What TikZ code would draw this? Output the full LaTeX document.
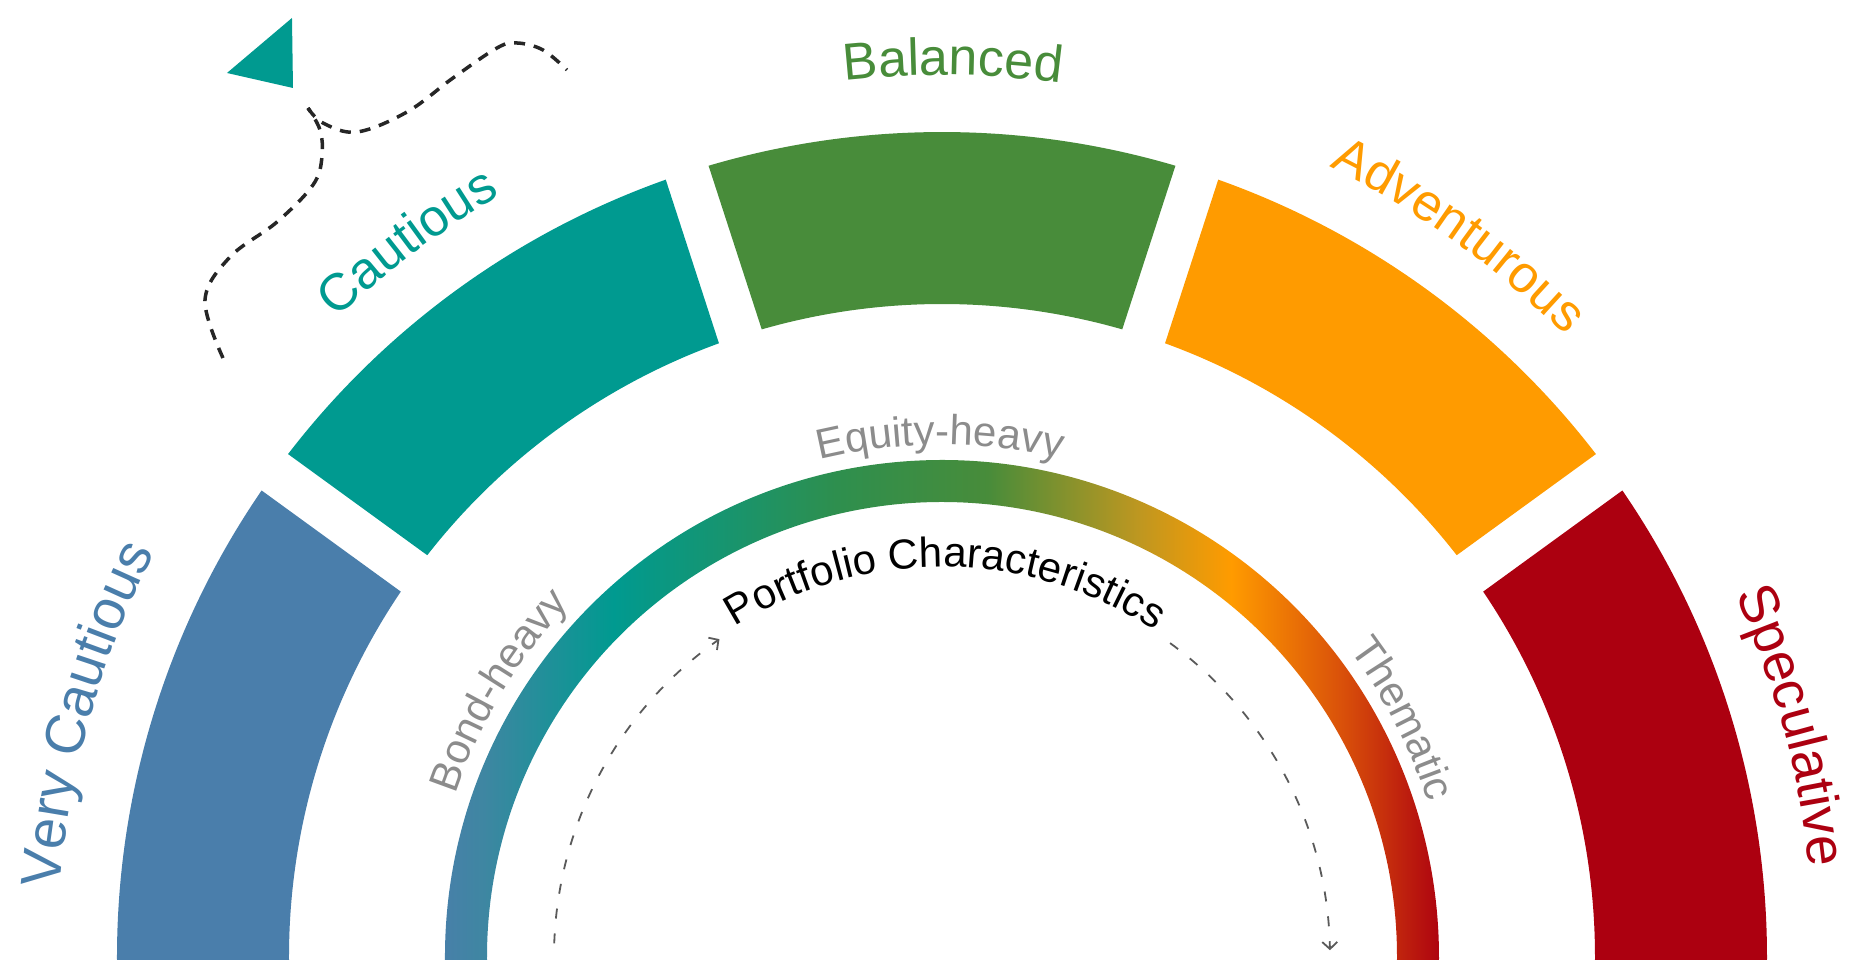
\documentclass[tikz,border=0pt]{standalone}
\usepackage{fontspec}
\setmainfont{Liberation Sans}
\usetikzlibrary{decorations.text,arrows.meta}
\definecolor{cBlue}{HTML}{4A7EAB}
\definecolor{cTeal}{HTML}{009A90}
\definecolor{cGreen}{HTML}{488C3A}
\definecolor{cOrange}{HTML}{FF9B00}
\definecolor{cRed}{HTML}{AC0010}
\definecolor{cGray}{HTML}{8C8C8C}
\definecolor{cDash}{HTML}{5A5A5A}
\definecolor{gA}{HTML}{3F86A2}
\definecolor{gB}{HTML}{2E8F4E}
\definecolor{gC}{HTML}{BF9720}
\definecolor{gD}{HTML}{D9500A}
\pgfdeclarehorizontalshading{ringshade}{100bp}{color(0bp)=(cBlue); color(25bp)=(cBlue); color(27.5bp)=(gA); color(34bp)=(cTeal); color(45bp)=(gB); color(52.5bp)=(cGreen); color(60bp)=(gC); color(64.5bp)=(cOrange); color(70bp)=(gD); color(75bp)=(cRed); color(100bp)=(cRed)}
% text along a clockwise arc: color, size, radius, centre angle, text
\newcommand\arctext[5]{%
  \path[decorate, decoration={text along path, text align=center, text color=#1,
    text={|\fontsize{#2}{#2}\selectfont|#5}}]
    ({#4+45}:#3) arc[start angle={#4+45}, end angle={#4-45}, radius=#3];}
\tikzset{
  dasharc/.style={cDash, line width=1.8pt, dash pattern=on 10pt off 15pt,
    -{Straight Barb[length=7pt,width=15pt]}},
  flightpath/.style={black!85, line width=3.5pt, dash pattern=on 11pt off 9pt}
}
\begin{document}
\begin{tikzpicture}[x=1pt,y=1pt]
\useasboundingbox (-942,-3) rectangle (913,957);
\clip (-942,-3) rectangle (913,957);
% outer segments
\fill[cRed] (-3:825) arc[start angle=-3,end angle=34.437,radius=825] -- (34.025:653) arc[start angle=34.025,end angle=-3,radius=653] -- cycle;
\fill[cOrange] (37.563:825) arc[start angle=37.563,end angle=70.437,radius=825] -- (70.025:653) arc[start angle=70.025,end angle=37.975,radius=653] -- cycle;
\fill[cGreen] (73.563:825) arc[start angle=73.563,end angle=106.437,radius=825] -- (106.025:653) arc[start angle=106.025,end angle=73.975,radius=653] -- cycle;
\fill[cTeal] (109.563:825) arc[start angle=109.563,end angle=142.437,radius=825] -- (142.025:653) arc[start angle=142.025,end angle=109.975,radius=653] -- cycle;
\fill[cBlue] (145.563:825) arc[start angle=145.563,end angle=183,radius=825] -- (183:653) arc[start angle=183,end angle=145.975,radius=653] -- cycle;
% gradient ring
\shade[shading=ringshade] (183:497) arc[start angle=183,end angle=-3,radius=497] -- (-3:455) arc[start angle=-3,end angle=183,radius=455] -- cycle;
% outer labels
\arctext{cBlue}{56}{885}{164.2}{Very Cautious}
\arctext{cTeal}{52}{880}{126.8}{Cautious}
\arctext{cGreen}{52}{882}{89.3}{Balanced}
\arctext{cOrange}{52}{880}{54.4}{Adventurous}
\arctext{cRed}{55}{872}{15.2}{Speculative}
% ring labels
\arctext{cGray}{42}{513}{149}{Bond-heavy}
\arctext{cGray}{42}{512}{90.2}{Equity-heavy}
\arctext{cGray}{42}{510}{27.3}{Thematic}
% inner title and dashed arcs
\arctext{black}{42}{390}{89.5}{Portfolio Characteristics}
\draw[dasharc] (178:388) arc[start angle=178,end angle=125,radius=388];
\draw[dasharc] (54:388) arc[start angle=54,end angle=1,radius=388];
% flight path and paper plane
\draw[flightpath] plot[smooth, tension=0.6] coordinates {(-719,599) (-737,657) (-712,700) (-665,735) (-629,772) (-620,800) (-622,827) (-634,849)};
\draw[flightpath] plot[smooth, tension=0.6] coordinates {(-634,849) (-619,834) (-585,825) (-535,845) (-489,879) (-445,909) (-425,914) (-399,907) (-375,887)};
\fill[cTeal] (-650,939) -- (-715,884) -- (-649,869) -- cycle;
\end{tikzpicture}
\end{document}
